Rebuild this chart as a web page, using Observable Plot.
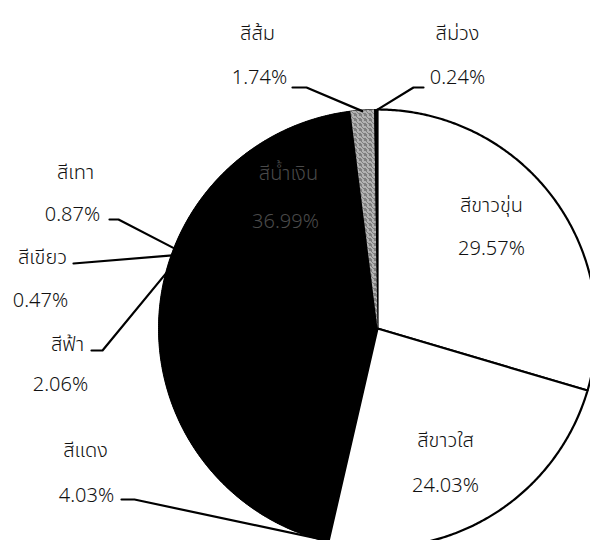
<!DOCTYPE html>
<html>
<head>
<meta charset="utf-8">
<script src="https://cdn.jsdelivr.net/npm/d3@7"></script>
<script src="https://cdn.jsdelivr.net/npm/@observablehq/plot@0.6"></script>
<style>
  html, body { margin: 0; padding: 0; background: #fff; }
  #chart svg { display: block; }
</style>
</head>
<body>
<div id="chart"></div>
<script>
// ---- data ----
const names  = ["สีขาวขุ่น", "สีขาวใส", "สีแดง", "สีฟ้า", "สีเขียว", "สีเทา", "สีน้ำเงิน", "สีส้ม", "สีม่วง"];
const values = [29.57, 24.03, 4.03, 2.06, 0.47, 0.87, 36.99, 1.74, 0.24];
const fills  = ["white", "white", "black", "black", "black", "black", "black", "url(#stipple)", "black"];

// ---- layout (pixels) ----
const W = 590, H = 540;
const CX = 377, CY = 328, R = 219;
// label centres [nameX, nameY, pctX, pctY]
const labelPos = [
  [491, 205, 491, 248],
  [445, 440, 445, 485],
  [85, 450, 86, 495],
  [67, 344, 60, 384],
  [42, 257, 40, 300],
  [75, 172, 72, 214],
  [288, 173, 285, 221],
  [257, 33, 259, 77],
  [457, 33, 457, 77]
];
// leader: [startX, startY, elbowX, anchor on slice ("start"|"mid"|angle in degrees)]
const leaders = [
  null, null,
  [121, 499, 134, "start"],
  [91, 350, 102, 285],
  [73, 263, 73, 289.6],
  [109, 219, 118, 291.5],
  null,
  [292, 87, 306, "mid"],
  [423, 87, 413, "mid"]
];
const textColor = ["#111", "#111", "#111", "#111", "#111", "#111", "#4a4a4a", "#111", "#111"];

// ---- build ----
const px = (x) => (x - CX) / R;      // pixel -> unit coords
const py = (y) => (CY - y) / R;
const rows = names.map((n, i) => ({name: n, value: values[i], i}));
const arcs = d3.pie().sort(null).value(d => d.value).startAngle(0).endAngle(2 * Math.PI)(rows);

function wedge(a0, a1) {
  const pts = [{x: 0, y: 0}];
  const steps = Math.max(2, Math.ceil((a1 - a0) / (Math.PI / 360)));
  for (let k = 0; k <= steps; k++) {
    const t = a0 + (a1 - a0) * k / steps;
    pts.push({x: Math.sin(t), y: Math.cos(t)});
  }
  pts.push({x: 0, y: 0});
  return pts;
}

// dark underlay spanning the dark slices, so no seams show between them
const darkIdx = arcs.map((a, i) => i).filter(i => fills[i] !== "white");
const darkStart = d3.min(darkIdx, i => arcs[i].startAngle);
const darkEnd = d3.max(darkIdx, i => arcs[i].endAngle);

const wedgeMarks = [
  Plot.line(wedge(darkStart, darkEnd), {x: "x", y: "y", fill: "black", stroke: "black", strokeWidth: 1, curve: "linear"}),
  ...arcs.map((a, i) => {
    const dark = fills[i] !== "white";
    return Plot.line(wedge(a.startAngle, a.endAngle), {x: "x", y: "y", fill: fills[i],
      stroke: dark ? "none" : "black", strokeWidth: 2.2, strokeLinejoin: "round", curve: "linear"});
  })
];

const leaderData = [];
arcs.forEach((a, i) => {
  const L = leaders[i];
  if (!L) return;
  let ang;
  if (L[3] === "start") ang = a.startAngle;
  else if (L[3] === "mid") ang = (a.startAngle + a.endAngle) / 2;
  else ang = L[3] * Math.PI / 180;
  const r = 0.995;
  leaderData.push({g: i, x: px(L[0]), y: py(L[1])});
  leaderData.push({g: i, x: px(L[2]), y: py(L[1])});
  leaderData.push({g: i, x: r * Math.sin(ang), y: r * Math.cos(ang)});
});

const textData = [];
rows.forEach((d, i) => {
  const p = labelPos[i];
  textData.push({x: px(p[0]), y: py(p[1]), t: d.name, c: textColor[i]});
  textData.push({x: px(p[2]), y: py(p[3]), t: d.value.toFixed(2) + "%", c: textColor[i]});
});

const chart = Plot.plot({
  width: W, height: H,
  margin: 0,
  x: {domain: [px(0), px(W)], axis: null},
  y: {domain: [py(H), py(0)], axis: null},
  style: {background: "white", overflow: "hidden"},
  marks: [
    ...wedgeMarks,
    Plot.line(leaderData, {x: "x", y: "y", z: "g", stroke: "black", strokeWidth: 2.2, curve: "linear"}),
    Plot.text(textData, {x: "x", y: "y", text: "t", fill: "c", fontSize: 20, fontWeight: 300,
      fontFamily: "'Noto Sans Thai', Tahoma, 'Leelawadee UI', 'Noto Sans', sans-serif"})
  ]
});

// stipple pattern for the orange slice
const svg = d3.select(chart);
const defs = svg.insert("defs", ":first-child");
const pat = defs.append("pattern").attr("id", "stipple").attr("patternUnits", "userSpaceOnUse")
  .attr("width", 5).attr("height", 5);
pat.append("rect").attr("width", 5).attr("height", 5).attr("fill", "#e4e4e4");
[[0, 0], [3, 0], [1, 1], [4, 2], [2, 2], [0, 3], [3, 3], [1, 4], [4, 4]].forEach(([a, b]) =>
  pat.append("rect").attr("x", a).attr("y", b).attr("width", 1).attr("height", 1).attr("fill", "#1a1a1a"));

document.getElementById("chart").appendChild(chart);
</script>
</body>
</html>
